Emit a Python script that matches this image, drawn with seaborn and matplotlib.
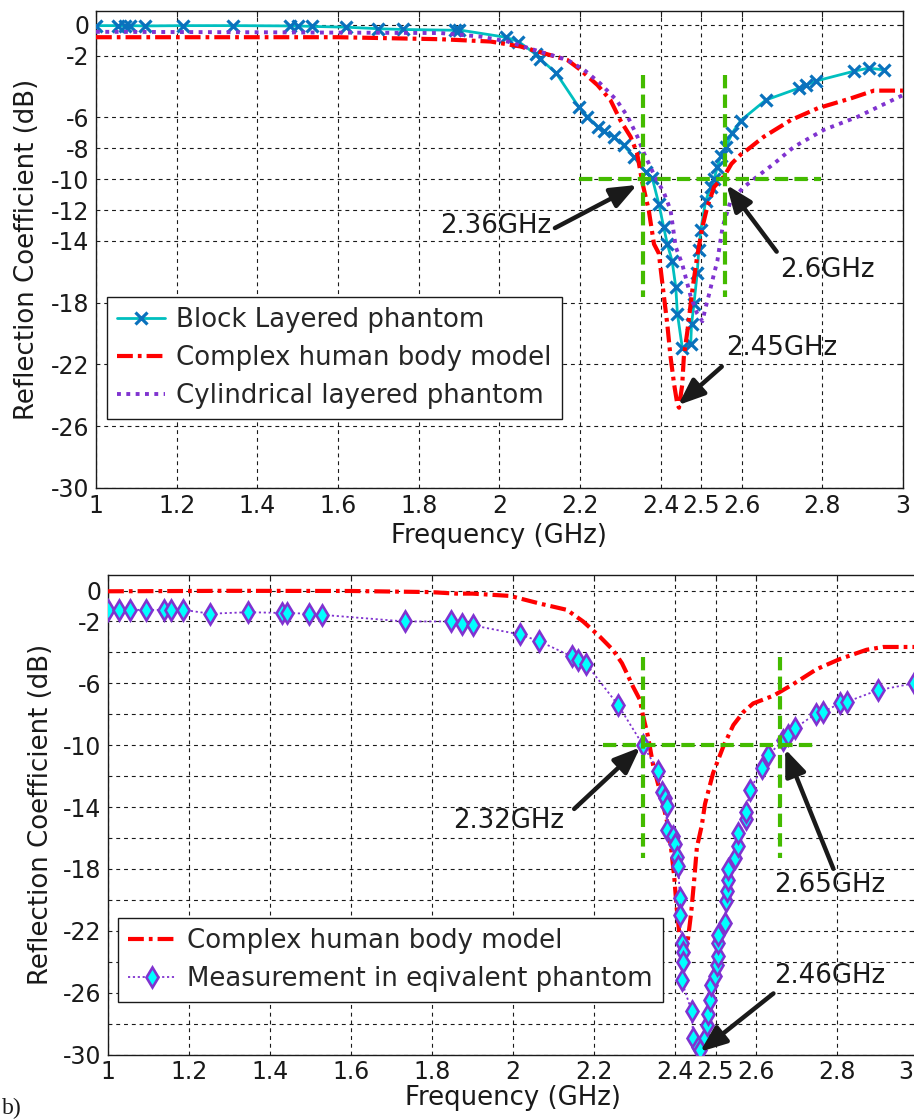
import matplotlib
matplotlib.use("Agg")
import matplotlib.pyplot as plt
from matplotlib.transforms import ScaledTranslation
import seaborn as sns

# ---------------- top panel: simulated reflection coefficient ----------------
block_freq = [1.00, 1.055, 1.072, 1.084, 1.122, 1.215, 1.34, 1.48, 1.50, 1.535, 1.62, 1.70,
              1.76, 1.89, 1.90, 2.015, 2.047, 2.09, 2.10, 2.14, 2.196, 2.218, 2.243, 2.258,
              2.283, 2.308, 2.333, 2.362, 2.379, 2.395, 2.407, 2.416, 2.428, 2.437, 2.441,
              2.453, 2.474, 2.476, 2.482, 2.49, 2.494, 2.499, 2.511, 2.524, 2.532, 2.54,
              2.548, 2.561, 2.577, 2.598, 2.66, 2.742, 2.76, 2.784, 2.879, 2.915, 2.953]
block_s11 = [-0.05, -0.05, -0.05, -0.05, -0.07, -0.05, -0.05, -0.07, -0.07, -0.1, -0.15, -0.25,
             -0.3, -0.35, -0.33, -0.8, -1.08, -1.9, -2.2, -3.1, -5.3, -5.95, -6.6, -6.9,
             -7.25, -7.8, -8.55, -9.5, -9.95, -11.6, -13.1, -14.2, -15.3, -17.0, -18.7,
             -20.9, -20.7, -19.4, -18.1, -16.1, -14.6, -13.3, -11.4, -10.5, -10.0, -9.2,
             -8.5, -7.9, -7.0, -6.2, -4.87, -4.1, -3.9, -3.64, -3.0, -2.8, -2.92]

body_freq = [1.0, 1.3, 1.6, 1.854, 1.978, 2.052, 2.11, 2.168, 2.2, 2.243, 2.275, 2.30, 2.325,
             2.341, 2.354, 2.37, 2.383, 2.395, 2.404, 2.416, 2.424, 2.433, 2.441, 2.445,
             2.453, 2.457, 2.466, 2.478, 2.49, 2.503, 2.515, 2.532, 2.557, 2.575, 2.598,
             2.614, 2.655, 2.722, 2.789, 2.871, 2.928, 3.0]
body_s11 = [-0.8, -0.8, -0.8, -0.93, -1.08, -1.4, -1.84, -2.27, -2.9, -3.9, -4.87, -6.2, -7.25,
            -8.3, -10.2, -12.0, -14.2, -14.8, -16.8, -19.4, -21.5, -23.3, -24.6, -24.8,
            -23.3, -21.5, -19.8, -17.2, -15.0, -13.1, -11.8, -10.5, -9.8, -9.0, -8.4,
            -8.1, -7.25, -6.17, -5.4, -4.76, -4.26, -4.26]

cyl_freq = [1.0, 1.4, 1.854, 1.953, 2.02, 2.10, 2.168, 2.21, 2.25, 2.29, 2.318, 2.342, 2.358,
            2.383, 2.408, 2.424, 2.437, 2.453, 2.466, 2.474, 2.49, 2.503, 2.511, 2.52, 2.532,
            2.54, 2.553, 2.573, 2.606, 2.64, 2.68, 2.73, 2.804, 2.888, 3.0]
cyl_s11 = [-0.45, -0.48, -0.53, -0.76, -1.08, -1.73, -2.27, -2.92, -3.8, -4.87, -5.95, -7.25,
           -8.3, -9.7, -10.9, -12.0, -14.4, -15.5, -16.8, -17.6, -18.7, -19.2, -18.3, -17.4,
           -16.1, -15.3, -13.1, -11.4, -10.5, -9.8, -9.0, -7.9, -6.8, -5.95, -4.55]

# ---------------- bottom panel: simulation vs. measurement ----------------
body2_freq = [1.0, 1.3, 1.6, 1.795, 1.86, 1.90, 1.993, 2.067, 2.133, 2.173, 2.215, 2.247,
              2.269, 2.28, 2.296, 2.313, 2.321, 2.333, 2.346, 2.363, 2.38, 2.39, 2.398,
              2.404, 2.41, 2.418, 2.425, 2.432, 2.44, 2.447, 2.454, 2.466, 2.474, 2.494,
              2.519, 2.544, 2.569, 2.593, 2.643, 2.692, 2.75, 2.807, 2.873, 2.914, 3.0]
body2_s11 = [-0.05, -0.02, -0.03, -0.1, -0.2, -0.2, -0.35, -0.85, -1.25, -2.0, -3.0, -3.85,
             -4.7, -5.3, -6.2, -7.05, -8.1, -9.4, -11.3, -13.0, -14.9, -16.6, -18.5,
             -20.5, -22.0, -23.2, -23.4, -22.5, -20.8, -18.8, -16.6, -15.2, -13.8, -11.8,
             -10.1, -8.7, -7.85, -7.3, -6.8, -6.05, -5.08, -4.43, -3.83, -3.65, -3.65]

meas_freq = [1.0, 1.027, 1.054, 1.093, 1.139, 1.155, 1.186, 1.253, 1.346, 1.429, 1.443, 1.495,
             1.528, 1.733, 1.846, 1.873, 1.902, 2.017, 2.064, 2.145, 2.16, 2.18, 2.26, 2.321,
             2.358, 2.367, 2.375, 2.379, 2.379, 2.396, 2.40, 2.404, 2.408, 2.412, 2.412,
             2.416, 2.42, 2.42, 2.416, 2.441, 2.445, 2.457, 2.462, 2.474, 2.478, 2.482,
             2.486, 2.49, 2.499, 2.503, 2.505, 2.507, 2.507, 2.523, 2.527, 2.529, 2.531,
             2.531, 2.548, 2.556, 2.556, 2.575, 2.575, 2.585, 2.614, 2.63, 2.667, 2.68,
             2.696, 2.748, 2.765, 2.807, 2.824, 2.90, 2.99]
meas_s11 = [-1.25, -1.25, -1.25, -1.25, -1.25, -1.25, -1.25, -1.5, -1.4, -1.45, -1.45, -1.5,
            -1.57, -2.0, -2.0, -2.19, -2.26, -2.84, -3.27, -4.26, -4.47, -4.73, -7.42, -10.0,
            -11.66, -13.0, -13.4, -13.9, -15.5, -15.9, -16.4, -17.2, -17.8, -19.9, -21.0,
            -22.8, -23.4, -24.0, -25.2, -27.2, -28.9, -29.5, -29.7, -28.9, -28.1, -27.4,
            -26.5, -25.5, -24.9, -24.2, -23.6, -22.8, -22.3, -21.5, -20.1, -19.4, -18.7,
            -18.0, -17.3, -16.5, -15.7, -14.8, -14.3, -12.9, -11.5, -10.65, -9.68, -9.35,
            -8.9, -7.96, -7.85, -7.3, -7.2, -6.45, -6.0]

# -10 dB bandwidth markers (GHz)
band_top = [2.355, 2.56]
band_bottom = [2.32, 2.66]
threshold_db = -10

freq_ticks = [1, 1.2, 1.4, 1.6, 1.8, 2, 2.2, 2.4, 2.5, 2.6, 2.8, 3]
freq_labels = ["1", "1.2", "1.4", "1.6", "1.8", "2", "2.2", "2.4", "2.5", "2.6", "2.8", "3"]
top_db_ticks = [0, -2, -6, -8, -10, -12, -14, -18, -22, -26, -30]
bottom_db_ticks = list(range(0, -31, -2))
bottom_db_shown = [0, -2, -6, -10, -14, -18, -22, -26, -30]

# ---------------- style ----------------
sns.set_theme(style="white")
plt.rcParams["font.family"] = ["DejaVu Sans"]
plt.rcParams["axes.unicode_minus"] = False

CYAN = "#00BFBF"
BLUE = "#0A72BD"
RED = "#FF0000"
PURPLE = "#8033D0"
GREEN = "#44BB00"
FS = 18.7
TICK_FS = 17

fig = plt.figure(figsize=(9.14, 11.19), dpi=100)
ax1 = fig.add_axes([0.1050, 0.5639, 0.8829, 0.4263])
ax2 = fig.add_axes([0.1182, 0.0576, 0.8862, 0.4285])


def style_axes(ax, yticks, ylabels, ylim):
    ax.set_xlim(1, 3)
    ax.set_ylim(*ylim)
    ax.set_xticks(freq_ticks)
    ax.set_xticklabels(freq_labels)
    ax.set_yticks(yticks)
    ax.set_yticklabels(ylabels)
    ax.set_axisbelow(True)
    ax.grid(True, color="k", lw=0.8, ls=(0, (3.5, 3.5)))
    ax.tick_params(direction="in", length=4, width=0.8, top=True, right=True,
                   labelsize=TICK_FS, colors="k")
    ax.tick_params(axis="x", pad=4)
    ax.tick_params(axis="y", pad=5)
    for s in ax.spines.values():
        s.set_color("k")
        s.set_linewidth(1.0)
    ax.set_xlabel("Frequency (GHz)", fontsize=FS, color="k")
    ax.set_ylabel("Reflection Coefficient (dB)", fontsize=FS, color="k")


def add_line(ax, x, y, label, **kw):
    dashes = kw.pop("dash_pattern", None)
    sns.lineplot(x=x, y=y, ax=ax, sort=False, estimator=None, label=label, **kw)
    line = ax.lines[-1]
    if dashes is not None:
        line.set_dashes(dashes)
    return line


def band_marks(ax, band, y_lo, y_hi, x_lo, x_hi):
    kw = dict(color=GREEN, lw=3, dashes=(3.2, 1.5), zorder=4)
    ax.plot([x_lo, x_hi], [threshold_db, threshold_db], **kw)
    for f in band:
        ax.plot([f, f], [y_lo, y_hi], **kw)


def arrow(ax, tip, tail):
    ax.annotate("", xy=tip, xytext=tail,
                arrowprops=dict(arrowstyle="-|>,head_length=0.8,head_width=0.32",
                                color="k", lw=3.2, mutation_scale=20,
                                shrinkA=0, shrinkB=0), zorder=6)


# ---------------- top panel ----------------
add_line(ax1, block_freq, block_s11, "Block Layered phantom", color=CYAN, lw=2,
         marker="x", markersize=8, mew=2.3, mec=BLUE, zorder=3)
add_line(ax1, body_freq, body_s11, "Complex human body model", color=RED, lw=3,
         dash_pattern=(3.8, 1.2, 0.9, 1.2), zorder=3)
add_line(ax1, cyl_freq, cyl_s11, "Cylindrical layered phantom", color=PURPLE, lw=2.8,
         dash_pattern=(1.0, 1.4), zorder=3)
band_marks(ax1, band_top, -3.25, -17.6, 2.196, 2.797)
style_axes(ax1, top_db_ticks, [str(t) for t in top_db_ticks], (-30, 0.9))
ax1.xaxis.set_label_coords(0.5, -0.073)
ax1.yaxis.set_label_coords(-0.069, 0.5)

ax1.text(1.991, -13.03, "2.36GHz", fontsize=FS, ha="center", va="center", color="k")
ax1.text(2.812, -15.88, "2.6GHz", fontsize=FS, ha="center", va="center", color="k")
ax1.text(2.70, -20.93, "2.45GHz", fontsize=FS, ha="center", va="center", color="k")
arrow(ax1, (2.341, -10.37), (2.1375, -13.16))
arrow(ax1, (2.563, -10.37), (2.687, -14.69))
arrow(ax1, (2.443, -24.63), (2.551, -22.14))

leg1 = ax1.legend(loc="upper left", bbox_to_anchor=(0.0136, 0.4004), borderaxespad=0,
                  frameon=True, fancybox=False, edgecolor="k", framealpha=1,
                  fontsize=FS, handlelength=1.85, handletextpad=0.4, labelspacing=0.45,
                  borderpad=0.4, numpoints=1)
leg1.get_frame().set_linewidth(1.0)

# ---------------- bottom panel ----------------
add_line(ax2, body2_freq, body2_s11, "Complex human body model", color=RED, lw=3,
         dash_pattern=(3.8, 1.2, 0.9, 1.2), zorder=3)
add_line(ax2, meas_freq, meas_s11, "Measurement in eqivalent phantom", color=PURPLE,
         lw=1.3, dash_pattern=(1.2, 1.5), marker="d", markersize=10, mfc="#00FFFF",
         mec=PURPLE, mew=1.9, zorder=3)
band_marks(ax2, band_bottom, -4.3, -17.3, 2.222, 2.746)
style_axes(ax2, bottom_db_ticks,
           [str(t) if t in bottom_db_shown else "" for t in bottom_db_ticks], (-30, 1))
ax2.xaxis.set_label_coords(0.5, -0.064)
ax2.yaxis.set_label_coords(-0.067, 0.5)

# the last frequency label sits at the figure edge: pull it inward slightly
last_lab = ax2.xaxis.get_majorticklabels()[-1]
last_lab.set_transform(last_lab.get_transform()
                       + ScaledTranslation(-0.12, 0, fig.dpi_scale_trans))

ax2.text(1.988, -14.87, "2.32GHz", fontsize=FS, ha="center", va="center", color="k")
ax2.text(2.783, -19.06, "2.65GHz", fontsize=FS, ha="center", va="center", color="k")
ax2.text(2.783, -24.94, "2.46GHz", fontsize=FS, ha="center", va="center", color="k")
arrow(ax2, (2.314, -10.14), (2.151, -14.12))
arrow(ax2, (2.672, -10.25), (2.791, -17.99))
arrow(ax2, (2.462, -29.82), (2.643, -26.05))

leg2 = ax2.legend(loc="upper left", bbox_to_anchor=(0.0123, 0.2847), borderaxespad=0,
                  frameon=True, fancybox=False, edgecolor="k", framealpha=1,
                  fontsize=FS, handlelength=1.85, handletextpad=0.4, labelspacing=0.45,
                  borderpad=0.4, numpoints=1)
leg2.get_frame().set_linewidth(1.0)

fig.text(0.002, 0.019, "b)", fontsize=17, family=["Liberation Serif", "DejaVu Serif"],
         ha="left", va="top", color="k")

fig.savefig("out.png", dpi=100)
